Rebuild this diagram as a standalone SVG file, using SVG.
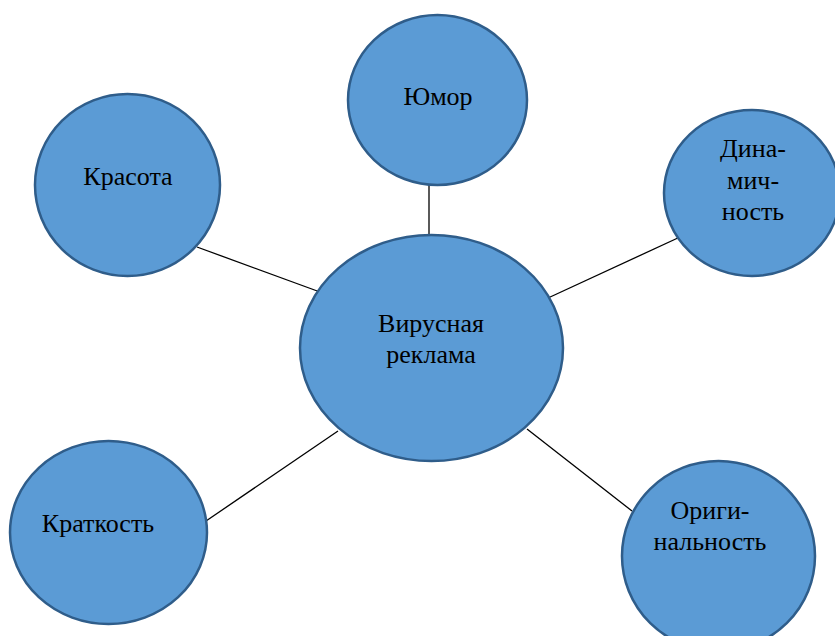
<svg xmlns="http://www.w3.org/2000/svg" width="835" height="636" viewBox="0 0 835 636">
<style>
.n{fill:#5b9bd5;stroke:#2f5d8a;stroke-width:2.5}
.c{stroke:#000;stroke-width:1.3;fill:none}
text{font-family:"Liberation Serif","Times New Roman",serif;font-size:26px;fill:#000;text-anchor:middle}
</style>
<rect width="835" height="636" fill="#fff"/>
<g id="connectors">
<line class="c" x1="429" y1="185" x2="429" y2="236"/>
<line class="c" x1="197" y1="247" x2="320" y2="292"/>
<line class="c" x1="548" y1="298" x2="680" y2="237"/>
<line class="c" x1="338" y1="431" x2="206" y2="521"/>
<line class="c" x1="527" y1="429" x2="632" y2="511"/>
</g>
<g id="center">
<ellipse class="n" cx="431.5" cy="348" rx="131.5" ry="113"/>
<text x="431" y="332">Вирусная</text>
<text x="431" y="363">реклама</text>
</g>
<g id="humor">
<ellipse class="n" cx="437.5" cy="100" rx="89.5" ry="85"/>
<text x="438" y="105">Юмор</text>
</g>
<g id="beauty">
<ellipse class="n" cx="127.5" cy="185" rx="92.5" ry="91"/>
<text x="128" y="185">Красота</text>
</g>
<g id="dynamics">
<ellipse class="n" cx="752" cy="193" rx="88" ry="83"/>
<text x="753" y="157">Дина-</text>
<text x="753" y="189">мич-</text>
<text x="753" y="220">ность</text>
</g>
<g id="brevity">
<ellipse class="n" cx="108.5" cy="532.5" rx="98.5" ry="91.5"/>
<text x="98" y="532">Краткость</text>
</g>
<g id="originality">
<ellipse class="n" cx="718.5" cy="556" rx="96.5" ry="95"/>
<text x="710" y="519">Ориги-</text>
<text x="710" y="550">нальность</text>
</g>
</svg>
